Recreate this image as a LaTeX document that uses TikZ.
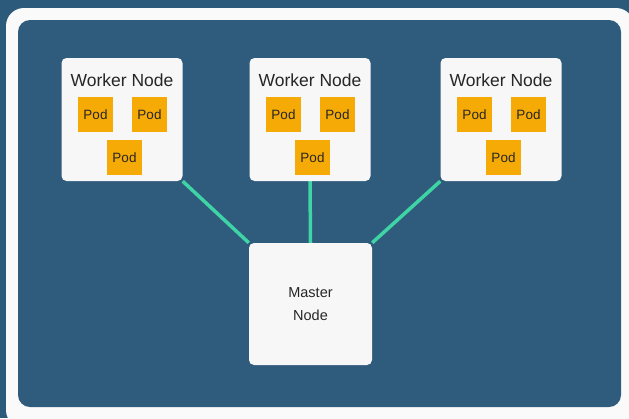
\documentclass[tikz,border=0pt]{standalone}
\usepackage{fontspec}
\setmainfont{Liberation Sans}
\definecolor{bgblue}{HTML}{2C5A7B}
\definecolor{inblue}{HTML}{2F5B7C}
\definecolor{boxwhite}{HTML}{F7F7F7}
\definecolor{podorange}{HTML}{F6AA06}
\definecolor{linkteal}{HTML}{3FD4A6}
\definecolor{txt}{HTML}{262626}
\pgfdeclarelayer{bglayer}
\pgfdeclarelayer{linklayer}
\pgfsetlayers{bglayer,linklayer,main}
\tikzset{
  workerbox/.style={fill=boxwhite, rounded corners=5pt, minimum width=121pt, minimum height=123pt, inner sep=0pt},
  masterbox/.style={fill=boxwhite, rounded corners=5pt, minimum width=123pt, minimum height=122pt, inner sep=0pt, align=center, font=\fontsize{14.5}{23}\selectfont, text=txt},
  pod/.style={fill=podorange, minimum width=35pt, minimum height=35pt, inner sep=0pt, font=\fontsize{13.5}{14}\selectfont, text=txt},
  wlabel/.style={font=\fontsize{17.5}{18}\selectfont, text=txt, inner sep=0pt},
  link/.style={draw=linkteal, line width=3.5pt}
}
\begin{document}
\begin{tikzpicture}[x=1pt,y=-1pt]
\useasboundingbox (0,0) rectangle (629,418);
\begin{pgfonlayer}{bglayer}
\fill[bgblue] (0,0) rectangle (629,418);
\fill[white!96!gray, rounded corners=18pt] (6,8) rectangle (634,428);
\fill[inblue, rounded corners=12pt] (18,20) rectangle (621,407);
\end{pgfonlayer}
\node[masterbox] (master) at (310.5,304) {Master\\Node};
\foreach \n/\cx in {w1/122, w2/310, w3/501}{
  \node[workerbox] (\n) at (\cx,119.5) {};
  \node[wlabel] (\n t) at (\cx,80) {Worker Node};
  \node[pod] (\n a) at (\cx-26.5,114.5) {Pod};
  \node[pod] (\n b) at (\cx+27.5,114.5) {Pod};
  \node[pod] (\n c) at (\cx+2.5,157.5) {Pod};
}
\begin{pgfonlayer}{linklayer}
\draw[link] (w1.south east) -- (master.north west);
\draw[link] (w2.south) -- (master.north);
\draw[link] (w3.south west) -- (master.north east);
\end{pgfonlayer}
\end{tikzpicture}
\end{document}
